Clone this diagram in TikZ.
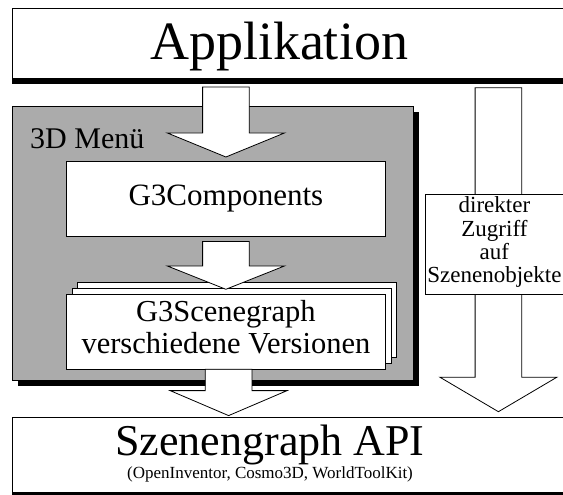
\documentclass[tikz,border=0pt]{standalone}
\usepackage{fontspec}
\setmainfont{Liberation Serif}
\usetikzlibrary{calc}
\definecolor{menugray}{HTML}{ABABAB}
\tikzset{
  plainbox/.style={draw=black, line width=0.8pt, fill=white, inner sep=0pt, anchor=north west},
  shadowbar/.style={fill=black, draw=none, inner sep=0pt, anchor=north west},
  blockarrow/.style={draw=black, line width=0.8pt, fill=white, line join=miter},
  huge text/.style={font=\fontsize{#1}{#1}\selectfont}
}
% broad white arrow: shaft starts at the height of #1, tip at #2, head length #3
\newcommand{\blockarrow}[3]{%
  \path[blockarrow] let \p1=(#1), \p2=(#2) in
    (\x2-23.3pt,\y1) -- (\x2+23.3pt,\y1) -- (\x2+23.3pt,\y2+#3pt) --
    (\x2+58.5pt,\y2+#3pt) -- (\x2,\y2) -- (\x2-58.5pt,\y2+#3pt) --
    (\x2-23.3pt,\y2+#3pt) -- cycle;}
\begin{document}
\begin{tikzpicture}[x=1pt,y=-1pt]
\useasboundingbox (0,0) rectangle (563,495);
\clip (0,0) rectangle (563,495);

% application layer
\node[shadowbar, minimum width=570pt, minimum height=6pt] (appshadow) at (12,78) {};
\node[plainbox, minimum width=570pt, minimum height=70pt] (app) at (12,8) {};
\node[huge text=54, anchor=base] (apptext) at (279,60) {Applikation};

% 3D menu frame
\node[shadowbar, minimum width=401pt, minimum height=274pt] (menushadow) at (17.5,112) {};
\node[plainbox, fill=menugray, minimum width=401pt, minimum height=274pt] (menu) at (12,106) {};
\node[huge text=30, anchor=base west, inner sep=0pt] (menutext) at (30,148) {3D Menü};

\node[plainbox, huge text=31, minimum width=319pt, minimum height=75pt] (comp) at (66,161) {G3Components};

% stack of scenegraph versions
\node[plainbox, minimum width=319pt, minimum height=75pt] (sceneback) at (77.3,281.7) {};
\node[plainbox, minimum width=319pt, minimum height=75pt] (scenemid) at (71.7,287.5) {};
\node[plainbox, minimum width=319pt, minimum height=75pt] (scene) at (66,293.5) {};
\node[font=\fontsize{30.5}{31.7}\selectfont, align=center, inner sep=0pt] (scenetext)
  at ($(scene.center)+(0,-4)$) {G3Scenegraph\\verschiedene Versionen};

% API layer
\node[shadowbar, minimum width=570pt, minimum height=6pt] (apishadow) at (12,492) {};
\node[plainbox, minimum width=570pt, minimum height=75pt] (api) at (12,417) {};
\node[huge text=44, anchor=base] (apititle) at (270,455) {Szenengraph API};
\node[huge text=17, anchor=base] (apisub) at (270,478) {(OpenInventor, Cosmo3D, WorldToolKit)};

% direct access box (its centre fixes the right arrow)
\node[plainbox, minimum width=146pt, minimum height=100pt] (zugriff) at (425,194) {};

% flow arrows
\coordinate (a1top) at ($(appshadow.south)+(0,2.7)$);
\coordinate (a1tip) at ($(comp.north)+(0,-4)$);
\blockarrow{a1top}{a1tip}{24}
\coordinate (a2top) at ($(comp.south)+(0,4.7)$);
\coordinate (a2tip) at ($(scene.north)+(0,-4.2)$);
\blockarrow{a2top}{a2tip}{23.3}
\coordinate (a3top) at ($(scene.south)+(2.7,0)$);
\coordinate (a3tip) at ($(a3top |- api.north)+(0,-1.4)$);
\blockarrow{a3top}{a3tip}{25}
\coordinate (a4top) at ($(zugriff.center |- appshadow.south)+(0,3.3)$);
\coordinate (a4tip) at ($(zugriff.center |- api.north)+(0,-5.3)$);
\blockarrow{a4top}{a4tip}{34.5}

% access box again, on top of the arrow shaft, with its text
\node[plainbox, minimum width=146pt, minimum height=100pt] (zugrifftop) at (425,194) {};
\node[font=\fontsize{23}{23.3}\selectfont, align=center, inner sep=0pt] (zugrifftext)
  at ($(zugrifftop.center)+(-4,-2)$) {direkter\\Zugriff\\auf\\Szenenobjekte};
\end{tikzpicture}
\end{document}
